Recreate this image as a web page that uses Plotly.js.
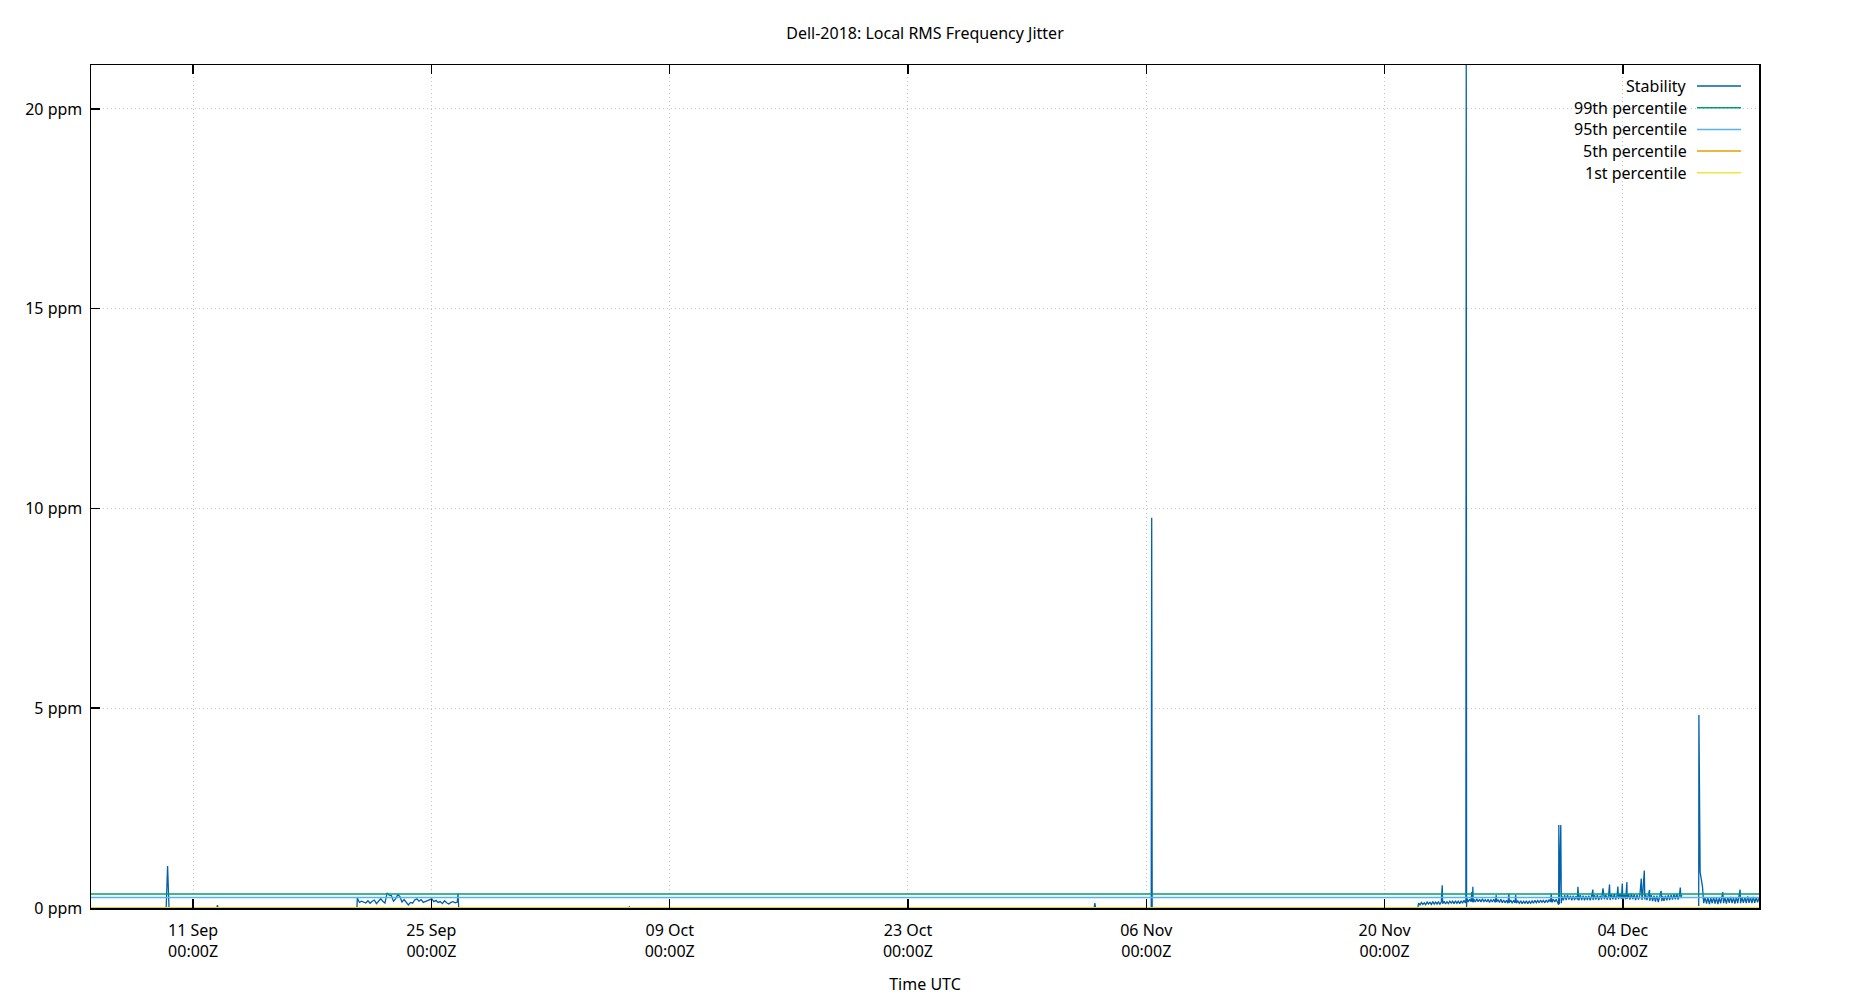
<!DOCTYPE html>
<html>
<head>
<meta charset="utf-8">
<script src="https://cdn.plot.ly/plotly-3.0.1.min.js"></script>
<style>html,body{margin:0;padding:0;background:#fff;}#chart{width:1850px;height:1000px;}</style>
</head>
<body>
<div id="chart"></div>
<script>
// ---------- data ----------
const chartTitle = 'Dell-2018: Local RMS Frequency Jitter';
const xTitle = 'Time UTC';
const year = '2023';

const seriesNames  = ['Stability', '99th percentile', '95th percentile', '5th percentile', '1st percentile'];
const seriesColors = ['#0060ad', '#009e73', '#56b4e9', '#e69f00', '#f0e442'];

const xRange = ['2023-09-05 00:00', '2023-12-12 00:00'];
const yRange = [0, 21.1];

const xTickVals = ['2023-09-11', '2023-09-25', '2023-10-09', '2023-10-23', '2023-11-06', '2023-11-20', '2023-12-04'];
const xTickText = ['11 Sep<br>00:00Z', '25 Sep<br>00:00Z', '09 Oct<br>00:00Z', '23 Oct<br>00:00Z', '06 Nov<br>00:00Z', '20 Nov<br>00:00Z', '04 Dec<br>00:00Z'];
const yTickVals = [0, 5, 10, 15, 20];
const yTickText = ['0 ppm', '5 ppm', '10 ppm', '15 ppm', '20 ppm'];

// Stability (ppm) as [MM-DD HH:MM, value]; null value = gap in the record
const stability = [
  ['09-05 00:00',0.01],['09-07 00:00',0.01],['09-09 10:00',0.01],['09-09 12:00',1.05],['09-09 14:00',0.01],
  ['09-11 00:00',0.01],['09-12 09:30',0.01],['09-12 10:20',0.07],['09-12 11:10',0.01],['09-16 00:00',0.01],
  ['09-20 15:00',0.01],
  ['09-20 15:30',0.25],['09-20 18:30',0.14],['09-20 21:30',0.17],['09-21 00:30',0.15],['09-21 03:30',0.125],
  ['09-21 06:30',0.18],['09-21 09:30',0.12],['09-21 12:30',0.17],['09-21 15:30',0.20],['09-21 18:30',0.11],
  ['09-21 21:30',0.17],['09-22 00:30',0.23],['09-22 03:30',0.17],['09-22 06:30',0.125],['09-22 09:30',0.38],
  ['09-22 12:30',0.32],['09-22 15:30',0.31],['09-22 18:30',0.17],['09-22 21:30',0.23],['09-23 00:30',0.33],
  ['09-23 03:30',0.29],['09-23 06:30',0.15],['09-23 09:30',0.21],['09-23 12:30',0.15],['09-23 15:30',0.075],
  ['09-23 18:30',0.14],['09-23 21:30',0.12],['09-24 00:30',0.20],['09-24 03:30',0.23],['09-24 06:30',0.17],
  ['09-24 09:30',0.21],['09-24 12:30',0.14],['09-24 15:30',0.16],['09-24 18:30',0.19],['09-24 21:30',0.20],
  ['09-25 00:30',0.23],['09-25 03:30',0.16],['09-25 06:30',0.19],['09-25 09:30',0.14],['09-25 12:30',0.16],
  ['09-25 15:30',0.11],['09-25 18:30',0.18],['09-25 21:30',0.13],['09-26 00:30',0.10],['09-26 03:30',0.14],
  ['09-26 06:30',0.16],['09-26 09:30',0.13],['09-26 12:30',0.15],['09-26 13:30',0.36],['09-26 14:30',0.005],
  ['10-06 14:00',0.005],['10-06 15:00',0.03],['10-06 16:00',0.005],['10-17 18:00',0.005],['10-17 19:00',0.02],
  ['10-17 20:00',0.005],['11-02 22:30',0.005],['11-02 23:30',0.12],['11-03 00:30',0.005],['11-06 07:00',0.005],
  ['11-06 07:40',9.77],['11-06 08:20',0.01],['11-21 23:00',0.01],
  // 22 Nov
  ['11-22 00:00',0.12],['11-22 02:00',0.08],['11-22 04:00',0.14],['11-22 06:00',0.09],['11-22 08:00',0.13],['11-22 10:00',0.08],
  ['11-22 12:00',0.15],['11-22 14:00',0.10],['11-22 16:00',0.14],['11-22 18:00',0.09],['11-22 20:00',0.16],['11-22 22:00',0.10],
  // 23 Nov
  ['11-23 00:00',0.15],['11-23 02:00',0.10],['11-23 04:00',0.16],['11-23 06:00',0.09],['11-23 08:00',0.15],['11-23 09:20',0.57],
  ['11-23 10:00',0.11],['11-23 12:00',0.17],['11-23 14:00',0.10],['11-23 16:00',0.16],['11-23 18:00',0.11],['11-23 20:00',0.17],
  ['11-23 22:00',0.12],
  // 24 Nov
  ['11-24 00:00',0.17],['11-24 02:00',0.11],['11-24 04:00',0.18],['11-24 06:00',0.12],['11-24 08:00',0.17],['11-24 10:00',0.11],
  ['11-24 12:00',0.18],['11-24 14:00',0.12],['11-24 16:00',0.19],['11-24 18:00',0.13],['11-24 18:40',0.20],['11-24 19:10',21.1],
  ['11-24 19:40',0.02],['11-24 20:00',0.25],['11-24 22:00',0.15],
  // 25 Nov
  ['11-25 00:00',0.22],['11-25 02:00',0.16],['11-25 03:00',0.40],['11-25 04:00',0.15],['11-25 04:30',0.53],['11-25 05:00',0.14],
  ['11-25 06:00',0.22],['11-25 08:00',0.15],['11-25 10:00',0.23],['11-25 12:00',0.16],['11-25 14:00',0.22],['11-25 16:00',0.15],
  ['11-25 18:00',0.23],['11-25 20:00',0.16],['11-25 22:00',0.21],
  // 26 Nov
  ['11-26 00:00',0.15],['11-26 02:00',0.22],['11-26 04:00',0.14],['11-26 06:00',0.21],['11-26 08:00',0.15],['11-26 10:00',0.22],
  ['11-26 12:00',0.14],['11-26 13:30',0.32],['11-26 14:00',0.15],['11-26 16:00',0.21],['11-26 18:00',0.14],['11-26 20:00',0.22],
  ['11-26 22:00',0.13],
  // 27 Nov
  ['11-27 00:00',0.20],['11-27 02:00',0.13],['11-27 04:00',0.19],['11-27 06:00',0.12],['11-27 07:20',0.36],['11-27 08:00',0.13],
  ['11-27 10:00',0.20],['11-27 12:00',0.12],['11-27 14:00',0.19],['11-27 16:00',0.13],['11-27 16:50',0.33],['11-27 18:00',0.12],
  ['11-27 20:00',0.18],['11-27 22:00',0.12],
  // 28 Nov
  ['11-28 00:00',0.18],['11-28 02:00',0.11],['11-28 04:00',0.17],['11-28 06:00',0.12],['11-28 08:00',0.18],['11-28 10:00',0.11],
  ['11-28 12:00',0.17],['11-28 14:00',0.12],['11-28 16:00',0.18],['11-28 18:00',0.12],['11-28 20:00',0.19],['11-28 22:00',0.13],
  // 29 Nov
  ['11-29 00:00',0.19],['11-29 02:00',0.13],['11-29 04:00',0.20],['11-29 06:00',0.14],['11-29 08:00',0.19],['11-29 10:00',0.13],
  ['11-29 12:00',0.20],['11-29 14:00',0.14],['11-29 16:00',0.21],['11-29 18:00',0.15],['11-29 19:00',0.36],['11-29 20:00',0.14],
  ['11-29 22:00',0.22],
  // 30 Nov
  ['11-30 00:00',0.15],['11-30 02:00',0.22],['11-30 04:00',0.14],['11-30 05:30',0.08],['11-30 05:45',2.08],['11-30 06:30',0.10],
  ['11-30 08:30',2.08],['11-30 09:15',0.12],['11-30 10:00',0.30],['11-30 12:00',0.19],['11-30 14:00',0.32],['11-30 16:00',0.20],
  ['11-30 18:00',0.33],['11-30 20:00',0.21],['11-30 22:00',0.31],
  // 1 Dec
  ['12-01 00:00',0.19],['12-01 02:00',0.31],['12-01 04:00',0.20],['12-01 06:00',0.30],['12-01 08:00',0.21],['12-01 08:40',0.53],
  ['12-01 10:00',0.19],['12-01 12:00',0.32],['12-01 14:00',0.20],['12-01 16:00',0.31],['12-01 18:00',0.19],['12-01 20:00',0.30],
  ['12-01 22:00',0.20],
  // 2 Dec
  ['12-02 00:00',0.31],['12-02 02:00',0.19],['12-02 04:00',0.30],['12-02 05:45',0.46],['12-02 06:00',0.20],['12-02 08:00',0.32],
  ['12-02 10:00',0.21],['12-02 12:00',0.33],['12-02 14:00',0.20],['12-02 16:00',0.31],['12-02 18:00',0.21],['12-02 20:00',0.49],
  ['12-02 22:00',0.22],
  // 3 Dec
  ['12-03 00:00',0.33],['12-03 02:00',0.21],['12-03 04:00',0.33],['12-03 05:15',0.59],['12-03 06:00',0.20],['12-03 08:00',0.34],
  ['12-03 10:00',0.22],['12-03 12:00',0.35],['12-03 14:00',0.21],['12-03 16:00',0.33],['12-03 17:00',0.54],['12-03 18:00',0.22],
  ['12-03 20:00',0.36],['12-03 22:00',0.23],['12-03 23:15',0.61],
  // 4 Dec
  ['12-04 00:00',0.21],['12-04 02:00',0.34],['12-04 04:00',0.22],['12-04 05:45',0.65],['12-04 06:00',0.23],['12-04 08:00',0.35],
  ['12-04 10:00',0.21],['12-04 12:00',0.36],['12-04 14:00',0.22],['12-04 16:00',0.34],['12-04 18:00',0.20],['12-04 20:00',0.33],
  ['12-04 22:00',0.21],
  // 5 Dec
  ['12-05 00:00',0.32],['12-05 02:00',0.74],['12-05 03:00',0.20],['12-05 04:00',0.33],['12-05 06:15',0.94],['12-05 07:00',0.21],
  ['12-05 08:00',0.34],['12-05 10:00',0.20],['12-05 12:00',0.33],['12-05 13:40',0.45],['12-05 14:00',0.18],['12-05 16:00',0.32],
  ['12-05 18:00',0.17],['12-05 20:00',0.31],['12-05 22:00',0.16],
  // 6 Dec
  ['12-06 00:00',0.31],['12-06 02:00',0.15],['12-06 04:00',0.32],['12-06 06:00',0.43],['12-06 07:00',0.17],['12-06 08:00',0.30],
  ['12-06 10:00',0.18],['12-06 12:00',0.31],['12-06 14:00',0.19],['12-06 16:00',0.32],['12-06 18:00',0.20],['12-06 20:00',0.33],
  ['12-06 22:00',0.21],
  // 7 Dec, then a gap in the record
  ['12-07 00:00',0.34],['12-07 02:00',0.22],['12-07 04:00',0.35],['12-07 06:00',0.21],['12-07 08:00',0.34],['12-07 09:00',0.51],
  ['12-07 10:00',0.25],['12-07 11:00',0.33],['12-07 23:00',null],
  // 8 Dec
  ['12-08 11:00',0.05],['12-08 11:15',4.83],['12-08 13:00',0.90],['12-08 14:30',0.69],['12-08 16:20',0.53],['12-08 18:00',0.12],
  ['12-08 20:00',0.27],['12-08 22:00',0.11],
  // 9 Dec
  ['12-09 00:00',0.26],['12-09 02:00',0.10],['12-09 04:00',0.25],['12-09 06:00',0.12],['12-09 08:00',0.27],['12-09 10:00',0.11],
  ['12-09 12:00',0.26],['12-09 14:00',0.10],['12-09 16:00',0.25],['12-09 18:00',0.12],['12-09 20:00',0.27],['12-09 21:00',0.40],
  ['12-09 22:00',0.12],
  // 10 Dec
  ['12-10 00:00',0.26],['12-10 02:00',0.11],['12-10 04:00',0.27],['12-10 06:00',0.13],['12-10 08:00',0.28],['12-10 10:00',0.12],
  ['12-10 12:00',0.26],['12-10 14:00',0.11],['12-10 16:00',0.27],['12-10 18:00',0.12],['12-10 20:00',0.28],['12-10 21:20',0.46],
  ['12-10 22:00',0.12],
  // 11-12 Dec
  ['12-11 00:00',0.26],['12-11 02:00',0.13],['12-11 04:00',0.27],['12-11 06:00',0.12],['12-11 08:00',0.29],['12-11 10:00',0.13],
  ['12-11 12:00',0.27],['12-11 14:00',0.12],['12-11 16:00',0.28],['12-11 18:00',0.13],['12-11 20:00',0.27],['12-11 22:00',0.14],
  ['12-12 00:00',0.26]
];
const stabTime = stability.map(p => year + '-' + p[0]);
const stabVal  = stability.map(p => p[1]);

// Percentile levels (ppm), constant over the whole span
const pctTime = ['2023-09-05 00:00', '2023-12-12 00:00'];
const p99 = [0.35, 0.35];
const p95 = [0.26, 0.26];
const p05 = [0.002, 0.002];
const p01 = [0.001, 0.001];

// ---------- layout ----------
const M = {l: 91, r: 91, t: 65, b: 92};
const W = 1850, H = 1000;
const plotW = W - M.l - M.r, plotH = H - M.t - M.b;
const FONT = 'Noto Sans, Open Sans, DejaVu Sans, sans-serif';

const lineSeries = [
  {x: stabTime, y: stabVal, w: 1.3},
  {x: pctTime, y: p99, w: 1.5},
  {x: pctTime, y: p95, w: 1.5},
  {x: pctTime, y: p05, w: 1.5},
  {x: pctTime, y: p01, w: 1.5}
];
const traces = lineSeries.map((s, i) => ({
  type: 'scatter', mode: 'lines', x: s.x, y: s.y, name: seriesNames[i],
  line: {color: seriesColors[i], width: s.w}, connectgaps: false,
  showlegend: false, hoverinfo: 'skip'
}));

// gnuplot-style legend: right-aligned text, line sample to the right
const legTextRightPx = 1689, legLineX0Px = 1697, legLineX1Px = 1741;
const legRow0Px = 86, legRowStepPx = 21.7;
const px2paperX = px => (px - M.l) / plotW;
const px2paperY = py => (H - M.b - py) / plotH;
const annotations = [], shapes = [];
seriesNames.forEach((nm, i) => {
  const yy = px2paperY(legRow0Px + i * legRowStepPx);
  annotations.push({xref: 'paper', yref: 'paper', x: px2paperX(legTextRightPx), y: yy,
    xanchor: 'right', yanchor: 'middle', text: nm, showarrow: false,
    font: {family: FONT, size: 16, color: '#000'}});
  shapes.push({type: 'line', xref: 'paper', yref: 'paper',
    x0: px2paperX(legLineX0Px), x1: px2paperX(legLineX1Px), y0: yy, y1: yy,
    line: {color: seriesColors[i], width: 1.5}});
});

const axisCommon = {
  showline: true, linecolor: '#000', linewidth: 1.5,
  ticks: 'inside', ticklen: 9, tickwidth: 1.5, tickcolor: '#000',
  showgrid: true, gridcolor: '#c4c4c4', gridwidth: 1, griddash: '1px,3px',
  zeroline: false, tickfont: {family: FONT, size: 16, color: '#000'}, automargin: false
};

const layout = {
  width: W, height: H, margin: M, paper_bgcolor: '#fff', plot_bgcolor: '#fff',
  font: {family: FONT, size: 16, color: '#000'},
  title: {text: chartTitle, x: 0.5, xref: 'paper', y: 1 - 33 / H, yanchor: 'middle',
    font: {family: FONT, size: 16, color: '#000'}},
  xaxis: Object.assign({}, axisCommon, {
    type: 'date', range: xRange, tickmode: 'array', tickvals: xTickVals, ticktext: xTickText,
    mirror: 'allticks', ticklabelstandoff: 7,
    title: {text: xTitle, font: {family: FONT, size: 16, color: '#000'}, standoff: 18}
  }),
  yaxis: Object.assign({}, axisCommon, {
    range: yRange, tickmode: 'array', tickvals: yTickVals, ticktext: yTickText,
    mirror: true, ticklabelstandoff: 4
  }),
  showlegend: false, annotations: annotations, shapes: shapes
};

Plotly.newPlot('chart', traces, layout, {staticPlot: true, displayModeBar: false});
</script>
</body>
</html>
